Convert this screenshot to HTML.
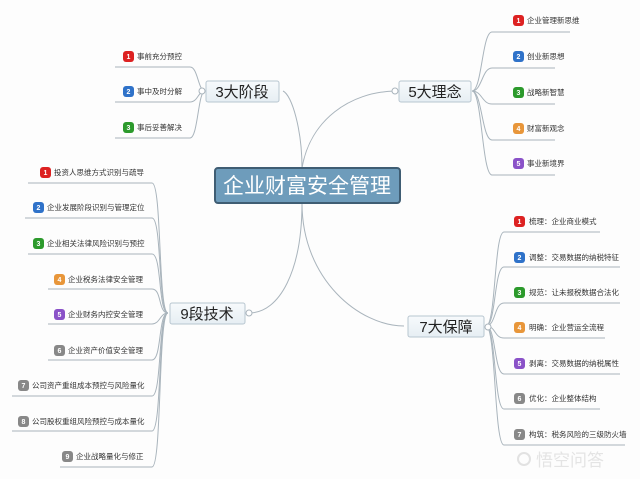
<!DOCTYPE html>
<html><head><meta charset="utf-8"><style>
html,body{margin:0;padding:0;background:#fff;}
svg{display:block;font-family:"Liberation Sans","Noto Sans CJK SC",sans-serif;}
</style></head><body>
<svg width="640" height="479" viewBox="0 0 640 479" xmlns="http://www.w3.org/2000/svg">
<defs>
<linearGradient id="nb" x1="0" y1="0" x2="0" y2="1"><stop offset="0" stop-color="#f7fafc"/><stop offset="1" stop-color="#e6eef3"/></linearGradient>
</defs>
<rect width="640" height="479" fill="#fdfdfd"/>
<g fill="none" stroke="#a9b4bc" stroke-width="1">
<path d="M302 168 C302 130 292 95 283 91"/>
<path d="M302 168 C310 120 350 92 395 91"/>
<path d="M302 203 C302 270 280 313 249 313"/>
<path d="M302 203 C302 280 360 326 404 326"/>
<path d="M205 91 C198 91 198 67 190 67 L115 67"/>
<path d="M205 91 C198 91 198 102 190 102 L115 102"/>
<path d="M205 91 C198 91 198 138 190 138 L115 138"/>
<path d="M472 91 C482 91 482 32 492 32 L570 32"/>
<path d="M472 91 C482 91 482 68 492 68 L555 68"/>
<path d="M472 91 C482 91 482 104 492 104 L555 104"/>
<path d="M472 91 C482 91 482 140 492 140 L555 140"/>
<path d="M472 91 C482 91 482 175 492 175 L555 175"/>
<path d="M168 313 C158 313 162 183 152 183 L28 183"/>
<path d="M168 313 C158 313 162 218 152 218 L25 218"/>
<path d="M168 313 C158 313 162 254 152 254 L28 254"/>
<path d="M168 313 C158 313 162 289 152 289 L48 289"/>
<path d="M168 313 C160 313 160 324 152 324 L48 324"/>
<path d="M168 313 C158 313 162 360 152 360 L48 360"/>
<path d="M168 313 C158 313 162 396 152 396 L12 396"/>
<path d="M168 313 C158 313 162 431 152 431 L12 431"/>
<path d="M168 313 C158 313 162 467 152 467 L60 467"/>
<path d="M486 326 C496 326 494 232 504 232 L600 232"/>
<path d="M486 326 C496 326 494 267 504 267 L620 267"/>
<path d="M486 326 C496 326 494 303 504 303 L620 303"/>
<path d="M486 326 C496 326 494 338 504 338 L605 338"/>
<path d="M486 326 C496 326 494 374 504 374 L620 374"/>
<path d="M486 326 C496 326 494 409 504 409 L600 409"/>
<path d="M486 326 C496 326 494 445 504 445 L625 445"/>
</g>
<g fill="#fff" stroke="#a9b4bc"><circle cx="202" cy="91" r="3"/><circle cx="395" cy="91" r="3"/><circle cx="249" cy="313" r="3"/><circle cx="488" cy="327" r="3"/></g>
<rect x="215" y="168" width="185" height="35" rx="3" fill="#6e9cbb" stroke="#3f5d73" stroke-width="2"/>
<text x="307" y="193" font-size="21" fill="#fff" text-anchor="middle">企业财富安全管理</text>
<g stroke="#b8c6d0" fill="url(#nb)">
<rect x="206" y="81" width="73" height="21" rx="2"/>
<rect x="399" y="81" width="72" height="21" rx="2"/>
<rect x="170" y="303" width="75" height="21" rx="2"/>
<rect x="408" y="316" width="76" height="21" rx="2"/>
</g>
<g font-size="15" fill="#222" text-anchor="middle">
<text x="242" y="97">3大阶段</text>
<text x="435" y="97">5大理念</text>
<text x="207" y="319">9段技术</text>
<text x="446" y="332">7大保障</text>
</g>
<g font-size="7" fill="#fff" text-anchor="middle" font-weight="bold">
<rect x="123" y="51" width="11" height="11" rx="3" fill="#d22"/><text x="128.5" y="59">1</text>
<rect x="123" y="86" width="11" height="11" rx="3" fill="#2f72c9"/><text x="128.5" y="94">2</text>
<rect x="123" y="122" width="11" height="11" rx="3" fill="#2c9a2c"/><text x="128.5" y="130">3</text>
<rect x="513" y="15" width="11" height="11" rx="3" fill="#d22"/><text x="518.5" y="23">1</text>
<rect x="513" y="51" width="11" height="11" rx="3" fill="#2f72c9"/><text x="518.5" y="59">2</text>
<rect x="513" y="87" width="11" height="11" rx="3" fill="#2c9a2c"/><text x="518.5" y="95">3</text>
<rect x="513" y="123" width="11" height="11" rx="3" fill="#e8963a"/><text x="518.5" y="131">4</text>
<rect x="513" y="158" width="11" height="11" rx="3" fill="#8a52c8"/><text x="518.5" y="166">5</text>
<rect x="40" y="167" width="11" height="11" rx="3" fill="#d22"/><text x="45.5" y="175">1</text>
<rect x="33" y="202" width="11" height="11" rx="3" fill="#2f72c9"/><text x="38.5" y="210">2</text>
<rect x="33" y="238" width="11" height="11" rx="3" fill="#2c9a2c"/><text x="38.5" y="246">3</text>
<rect x="54" y="274" width="11" height="11" rx="3" fill="#e8963a"/><text x="59.5" y="282">4</text>
<rect x="54" y="309" width="11" height="11" rx="3" fill="#8a52c8"/><text x="59.5" y="317">5</text>
<rect x="54" y="345" width="11" height="11" rx="3" fill="#888"/><text x="59.5" y="353">6</text>
<rect x="18" y="380" width="11" height="11" rx="3" fill="#888"/><text x="23.5" y="388">7</text>
<rect x="18" y="416" width="11" height="11" rx="3" fill="#888"/><text x="23.5" y="424">8</text>
<rect x="62" y="451" width="11" height="11" rx="3" fill="#888"/><text x="67.5" y="459">9</text>
<rect x="514" y="216" width="11" height="11" rx="3" fill="#d22"/><text x="519.5" y="224">1</text>
<rect x="514" y="252" width="11" height="11" rx="3" fill="#2f72c9"/><text x="519.5" y="260">2</text>
<rect x="514" y="287" width="11" height="11" rx="3" fill="#2c9a2c"/><text x="519.5" y="295">3</text>
<rect x="514" y="322" width="11" height="11" rx="3" fill="#e8963a"/><text x="519.5" y="330">4</text>
<rect x="514" y="358" width="11" height="11" rx="3" fill="#8a52c8"/><text x="519.5" y="366">5</text>
<rect x="514" y="393" width="11" height="11" rx="3" fill="#888"/><text x="519.5" y="401">6</text>
<rect x="514" y="429" width="11" height="11" rx="3" fill="#888"/><text x="519.5" y="437">7</text>
</g>
<g font-size="7.5" fill="#333">
<text x="137" y="59">事前充分预控</text>
<text x="137" y="94">事中及时分解</text>
<text x="137" y="130">事后妥善解决</text>
<text x="527" y="23">企业管理新思维</text>
<text x="527" y="59">创业新思想</text>
<text x="527" y="95">战略新智慧</text>
<text x="527" y="131">财富新观念</text>
<text x="527" y="166">事业新境界</text>
<text x="54" y="175">投资人思维方式识别与疏导</text>
<text x="47" y="210">企业发展阶段识别与管理定位</text>
<text x="47" y="246">企业相关法律风险识别与预控</text>
<text x="68" y="282">企业税务法律安全管理</text>
<text x="68" y="317">企业财务内控安全管理</text>
<text x="68" y="353">企业资产价值安全管理</text>
<text x="32" y="388">公司资产重组成本预控与风险量化</text>
<text x="32" y="424">公司股权重组风险预控与成本量化</text>
<text x="76" y="459">企业战略量化与修正</text>
<text x="529" y="224">梳理：企业商业模式</text>
<text x="529" y="260">调整：交易数据的纳税特征</text>
<text x="529" y="295">规范：让未报税数据合法化</text>
<text x="529" y="330">明确：企业营运全流程</text>
<text x="529" y="366">剥离：交易数据的纳税属性</text>
<text x="529" y="401">优化：企业整体结构</text>
<text x="529" y="437">构筑：税务风险的三级防火墙</text>
</g>
<g fill="none" stroke="#e2e2e2" stroke-width="2"><circle cx="524" cy="459" r="6"/></g>
<text x="536" y="466" font-size="17" fill="#e4e4e4">悟空问答</text>
</svg>
</body></html>
